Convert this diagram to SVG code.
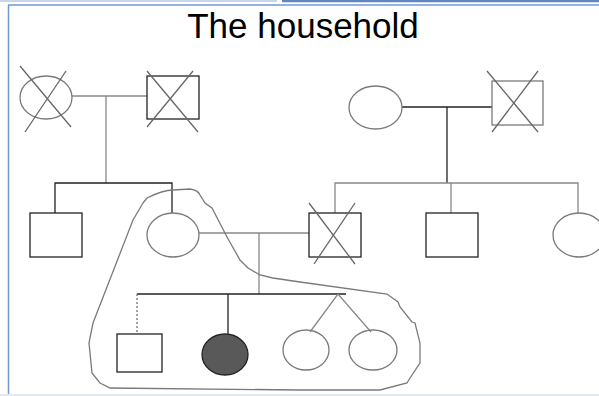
<svg xmlns="http://www.w3.org/2000/svg" width="599" height="396" viewBox="0 0 599 396">
<style>
.g{fill:none;stroke:#7a7a7a;stroke-width:1.3}
.k{fill:none;stroke:#222;stroke-width:1.3}
.x{stroke:#666;stroke-width:1.3}
.ln{stroke:#888;stroke-width:1.3;fill:none}
.lk{stroke:#222;stroke-width:1.3;fill:none}
.t{font-family:"Liberation Sans",Arial,sans-serif;font-size:35px;fill:#000}
</style>
<rect width="599" height="396" fill="#fff"/>
<g id="frame">
<line x1="0" y1="1" x2="277" y2="1" stroke="#c8d6ea" stroke-width="2"/>
<line x1="282" y1="1" x2="599" y2="1" stroke="#5f88c2" stroke-width="2.5"/>
<line x1="8" y1="5" x2="599" y2="5" stroke="#7098cf" stroke-width="1.5"/>
<line x1="8.5" y1="5" x2="8.5" y2="394" stroke="#7098cf" stroke-width="1.5"/>
<line x1="0" y1="395" x2="599" y2="395" stroke="#e6eaf0" stroke-width="2"/>
</g>
<text class="t" x="303" y="38" text-anchor="middle">The household</text>
<g id="connectors">
<polyline class="ln" points="72,96 147,96"/>
<polyline class="ln" points="106,96 106,183"/>
<polyline class="lk" points="55,213 55,183 172,183 172,213"/>
<polyline class="lk" points="402,107 492,107"/>
<polyline class="lk" points="447,107 447,183"/>
<polyline class="ln" points="335,213 335,183 578,183 578,213"/>
<polyline class="ln" points="451,183 451,213"/>
<polyline class="ln" points="199,233 309,233"/>
<polyline class="ln" points="259,233 259,294"/>
<polyline class="lk" points="137,294 346,294"/>
<line x1="137" y1="294" x2="137" y2="333" stroke="#666" stroke-width="1.2" stroke-dasharray="2,2"/>
<polyline class="lk" points="228,294 228,334"/>
<polyline class="ln" points="310,332 338,294 371,332"/>
</g>
<g id="gm1">
<ellipse class="g" cx="46" cy="97.5" rx="26" ry="21.5"/>
<line class="x" x1="20" y1="66" x2="71" y2="127"/>
<line class="x" x1="66" y1="71" x2="25" y2="132"/>
</g>
<g id="gf1">
<rect class="k" x="147" y="76" width="52" height="43"/>
<line class="x" x1="147" y1="71" x2="198" y2="132"/>
<line class="x" x1="193" y1="71" x2="147" y2="127"/>
</g>
<g id="gm2">
<ellipse class="g" cx="375.5" cy="107.5" rx="26.5" ry="21.5"/>
</g>
<g id="gf2">
<rect class="g" x="492" y="81" width="51" height="44"/>
<line class="x" x1="487" y1="71" x2="538" y2="132"/>
<line class="x" x1="538" y1="71" x2="492" y2="132"/>
</g>
<g id="uncle1">
<rect class="k" x="30" y="213" width="52" height="44"/>
</g>
<g id="mother">
<ellipse class="g" cx="173" cy="235" rx="26" ry="22"/>
</g>
<g id="father">
<rect class="k" x="309" y="213" width="52" height="44"/>
<line class="x" x1="309" y1="203" x2="355" y2="264"/>
<line class="x" x1="355" y1="203" x2="314" y2="264"/>
</g>
<g id="uncle2">
<rect class="k" x="426" y="213" width="52" height="44"/>
</g>
<g id="aunt">
<ellipse class="g" cx="579" cy="235" rx="26" ry="22"/>
</g>
<g id="son">
<rect class="k" x="117" y="334" width="45" height="38"/>
</g>
<g id="proband">
<ellipse cx="225" cy="354.5" rx="23" ry="20.5" fill="#595959" stroke="#222" stroke-width="1.3"/>
</g>
<g id="twin1">
<ellipse class="g" cx="306" cy="350" rx="23" ry="20"/>
</g>
<g id="twin2">
<ellipse class="g" cx="373" cy="350" rx="24" ry="20"/>
</g>
<g id="household">
<path class="g" d="M143,203 L147,198 C155,194 165,190 173,190 L190,189 C196,190 199,192 200,195 L205,203 L212,208 L227,237 L240,260 L248,268 L260,275 L273,278 L300,282 L387,294 L398,302 L400,307 L412,322 L415,323 L420,343 L420,363 L410,378 L407,383 L380,390 L300,390 L110,388 L100,383 L92,373 L89,343 L93,323 L107,287 L133,220 Z"/>
</g>
</svg>
